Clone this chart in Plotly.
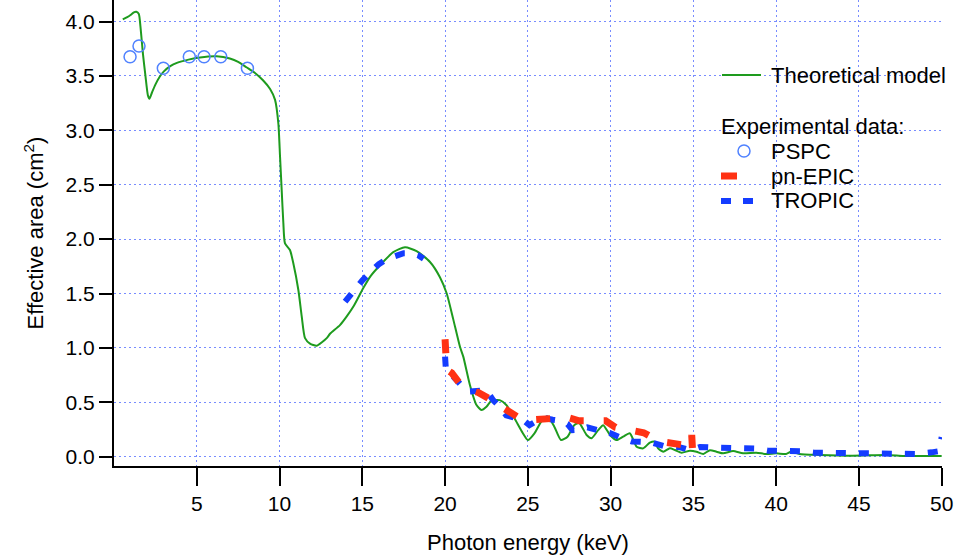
import plotly.graph_objects as go

# ---------------- data ----------------
model_e = [0.53, 0.8, 1.0, 1.2, 1.35, 1.5, 1.6, 1.75, 1.9, 2.05, 2.14, 2.3, 2.5, 2.75, 3.0, 3.4, 3.8,
           4.5, 5.2, 6.2, 7.0, 7.5, 8.0, 8.5, 9.0, 9.43, 9.73, 9.93, 10.03, 10.13, 10.23, 10.33,
           10.63, 10.83, 11.14, 11.34, 11.54, 11.84, 12.25, 12.85, 13.05, 13.65, 14.06, 14.5,
           15.06, 15.5, 16.07, 16.87, 17.58, 18.28, 19.09, 19.69, 20.1, 20.5, 20.9, 21.1, 21.5,
           21.9, 22.2, 22.5, 22.8, 23.3, 23.7, 24.2, 24.7, 25.0, 25.4, 25.8, 26.2, 26.6, 27.0,
           27.4, 27.8, 28.1, 28.55, 28.85, 29.25, 29.55, 29.96, 30.36, 30.76, 31.16, 31.57,
           31.97, 32.37, 32.67, 32.87, 33.18, 33.58, 33.88, 34.29, 34.79, 35.19, 35.6, 36.0,
           36.4, 36.8, 37.4, 38.0, 38.8, 39.4, 40.0, 40.6, 40.9, 41.4, 42.6, 44.6, 46.7, 47.7,
           48.7, 50.0]
model_a = [4.02, 4.04, 4.06, 4.085, 4.09, 4.07, 3.95, 3.7, 3.5, 3.32, 3.29, 3.35, 3.42, 3.49, 3.54,
           3.59, 3.62, 3.65, 3.67, 3.68, 3.66, 3.63, 3.58, 3.53, 3.46, 3.38, 3.28, 3.06, 2.76,
           2.45, 2.15, 1.96, 1.90, 1.78, 1.53, 1.29, 1.09, 1.04, 1.02, 1.09, 1.13, 1.21, 1.29,
           1.39, 1.55, 1.66, 1.76, 1.88, 1.925, 1.89, 1.79, 1.65, 1.50, 1.26, 1.01, 0.92, 0.66,
           0.475, 0.43, 0.46, 0.515, 0.52, 0.475, 0.35, 0.215, 0.153, 0.215, 0.32, 0.37, 0.276,
           0.153, 0.184, 0.29, 0.31, 0.2, 0.17, 0.245, 0.29, 0.2, 0.153, 0.184, 0.215, 0.092,
           0.077, 0.129, 0.138, 0.077, 0.046, 0.077, 0.062, 0.037, 0.055, 0.046, 0.025, 0.06,
           0.046, 0.031, 0.052, 0.031, 0.037, 0.025, 0.031, 0.025, 0.046, 0.025, 0.016, 0.009,
           0.016, 0.006, 0.006, 0.006]

pspc_e = [0.97, 1.51, 2.98, 4.55, 5.44, 6.45, 8.06]
pspc_a = [3.676, 3.775, 3.57, 3.676, 3.676, 3.676, 3.57]

epic_e = [20.0, 20.02, 20.05, 20.1, 20.4, 20.9, 21.4, 22.0, 22.7, 23.1, 23.5, 24.0, 24.5, 25.3,
          26.0, 26.6, 27.4, 28.1, 28.8, 29.7, 30.3, 31.0, 32.0, 32.6, 33.2, 34.3, 34.8, 34.85,
          34.9, 34.95]
epic_a = [1.08, 0.95, 0.87, 0.80, 0.77, 0.67, 0.62, 0.59, 0.53, 0.50, 0.45, 0.40, 0.355, 0.34,
          0.345, 0.355, 0.36, 0.33, 0.33, 0.33, 0.27, 0.245, 0.22, 0.17, 0.135, 0.11, 0.10, 0.10,
          0.20, 0.06]

tropic_e = [13.96, 14.5, 15.0, 15.5, 16.0, 16.5, 17.0, 17.5, 18.0, 18.4, 18.7, None,
            20.0, 20.05, 20.3, 20.9, 21.2, 21.5, 22.0, 22.5, 22.9, 23.3, 23.7, 24.2, 24.7, 25.1,
            25.5, 25.9, 26.5, 27.0, 27.4, 27.7, 28.2, 28.6, 29.2, 29.6, 30.0, 30.7, 31.3, 32.1,
            32.6, 33.4, 34.1, 34.8, 35.4, 36.0, 36.8, 37.4, 38.2, 38.7, 39.5, 40.1, 40.9, 41.5,
            42.3, 42.9, 43.7, 44.3, 45.0, 45.7, 46.6, 47.2, 47.9, 48.5, 49.4, 49.8, 49.9, 50.0]
tropic_a = [1.425, 1.53, 1.62, 1.70, 1.77, 1.82, 1.85, 1.87, 1.87, 1.85, 1.82, None,
            0.92, 0.80, 0.77, 0.68, 0.62, 0.60, 0.61, 0.61, 0.52, 0.46, 0.38, 0.36, 0.34, 0.29,
            0.32, 0.36, 0.34, 0.33, 0.30, 0.245, 0.25, 0.27, 0.245, 0.23, 0.215, 0.17, 0.14, 0.135,
            0.125, 0.09, 0.09, 0.06, 0.09, 0.085, 0.08, 0.08, 0.08, 0.075, 0.055, 0.055, 0.055, 0.05,
            0.037, 0.037, 0.037, 0.035, 0.037, 0.03, 0.025, 0.025, 0.025, 0.025, 0.04, 0.05, 0.11, 0.18]

x_ticks = [5, 10, 15, 20, 25, 30, 35, 40, 45, 50]
y_ticks = [0.0, 0.5, 1.0, 1.5, 2.0, 2.5, 3.0, 3.5, 4.0]

legend_labels = ["Theoretical model", "Experimental data:", "PSPC", "pn-EPIC", "TROPIC"]

# ---------------- styling ----------------
GREEN = "rgb(30,155,30)"
RED = "rgb(255,50,20)"
BLUE = "rgb(20,60,255)"
LBLUE = "rgb(80,130,255)"
GRID = "rgb(120,140,255)"
FONT = "Liberation Sans, Arial, sans-serif"

W, H = 957, 556
ML, MR, MT, MB = 114, 15, 0, 90
PW, PH = W - ML - MR, H - MT - MB


def px(xp):
    return (xp - ML) / PW


def py(yp):
    return (H - MB - yp) / PH


fig = go.Figure()
fig.add_trace(go.Scatter(x=model_e, y=model_a, mode="lines",
                         line=dict(color=GREEN, width=2, shape="spline", smoothing=0.6),
                         showlegend=False, cliponaxis=False))
fig.add_trace(go.Scatter(x=tropic_e, y=tropic_a, mode="lines",
                         line=dict(color=BLUE, width=6, dash="10px,13px"),
                         showlegend=False, cliponaxis=False, connectgaps=False))
fig.add_trace(go.Scatter(x=epic_e, y=epic_a, mode="lines",
                         line=dict(color=RED, width=7, dash="14px,20px"),
                         showlegend=False, cliponaxis=False))
fig.add_trace(go.Scatter(x=pspc_e, y=pspc_a, mode="markers",
                         marker=dict(symbol="circle-open", size=12, color=LBLUE,
                                     line=dict(width=1.5, color=LBLUE)),
                         showlegend=False, cliponaxis=False))

# ---------------- manual legend ----------------
shapes = [
    dict(type="line", xref="paper", yref="paper", x0=px(722), x1=px(761), y0=py(75), y1=py(75),
         line=dict(color=GREEN, width=2)),
    dict(type="circle", xref="paper", yref="paper", x0=px(738), x1=px(750), y0=py(145), y1=py(157),
         line=dict(color=LBLUE, width=1.5)),
    dict(type="line", xref="paper", yref="paper", x0=px(721), x1=px(737), y0=py(176), y1=py(176),
         line=dict(color=RED, width=7)),
    dict(type="line", xref="paper", yref="paper", x0=px(721), x1=px(731), y0=py(201), y1=py(201),
         line=dict(color=BLUE, width=6)),
    dict(type="line", xref="paper", yref="paper", x0=px(743), x1=px(753), y0=py(201), y1=py(201),
         line=dict(color=BLUE, width=6)),
]
leg_pos = [(769, 75), (719, 126), (769, 151), (769, 176), (769, 201)]
annotations = []
for lab, (lx, ly) in zip(legend_labels, leg_pos):
    annotations.append(dict(text=lab, xref="paper", yref="paper", x=px(lx), y=py(ly),
                            xanchor="left", yanchor="middle", showarrow=False,
                            font=dict(family=FONT, size=22, color="black")))

fig.update_layout(
    width=W, height=H,
    margin=dict(l=ML, r=MR, t=MT, b=MB),
    paper_bgcolor="white", plot_bgcolor="white",
    font=dict(family=FONT, size=21, color="black"),
    shapes=shapes, annotations=annotations,
    showlegend=False,
)
fig.update_xaxes(
    range=[0, 50.02], tickvals=x_ticks, ticktext=[str(v) for v in x_ticks],
    showline=True, linecolor="black", linewidth=2, mirror=False,
    ticks="outside", ticklen=18, tickwidth=2, tickcolor="black",
    showgrid=True, gridcolor=GRID, gridwidth=1, griddash="2px,3px",
    zeroline=False,
    title=dict(text="Photon energy (keV)", font=dict(size=22), standoff=20),
    tickfont=dict(size=21),
)
fig.update_yaxes(
    range=[-0.0855, 4.198], tickvals=y_ticks, ticktext=[f"{v:.1f}" for v in y_ticks],
    showline=True, linecolor="black", linewidth=2,
    ticks="outside", ticklen=13, tickwidth=2, tickcolor="black",
    showgrid=True, gridcolor=GRID, gridwidth=1, griddash="2px,3px",
    zeroline=False,
    title=dict(text="Effective area (cm<sup>2</sup>)", font=dict(size=22), standoff=16),
    tickfont=dict(size=21),
)

fig.write_html("out.html")
